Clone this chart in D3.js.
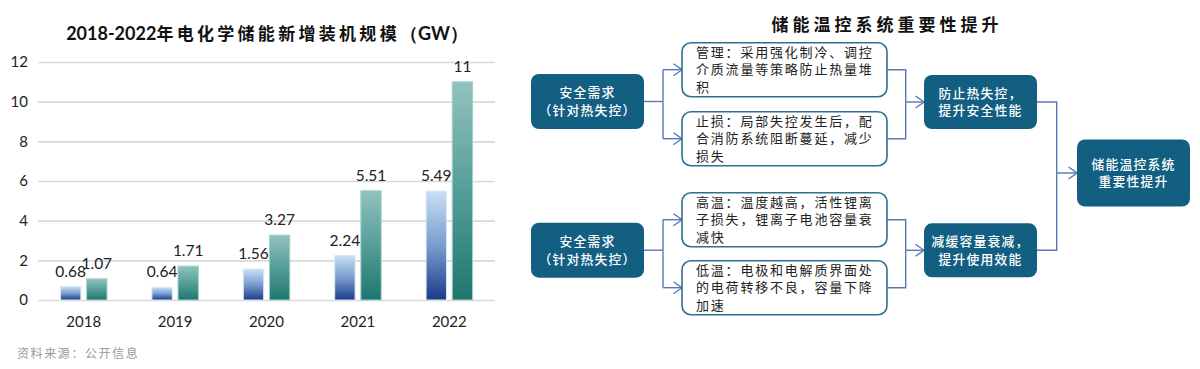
<!DOCTYPE html>
<html><head><meta charset="utf-8">
<script src="https://cdn.jsdelivr.net/npm/d3@7"></script>
<style>body{margin:0;background:#fff} svg{display:block}</style>
</head><body>
<svg id="c" width="1200" height="369"></svg>
<script>
const years = ["2018","2019","2020","2021","2022"];
const seriesA = [0.68,0.64,1.56,2.24,5.49];
const seriesB = [1.07,1.71,3.27,5.51,11];
const yTicks = [0,2,4,6,8,10,12];
const chartTitleNum = "2018-2022";
const chartTitleCjk = "年电化学储能新增装机规模";
const chartTitleUnit = "（GW）";
const sourceNote = "资料来源：公开信息";
const diagramTitle = "储能温控系统重要性提升";
const needLines = ["安全需求","（针对热失控）"];
const detailTexts = [
  ["管理：采用强化制冷、调控","介质流量等策略防止热量堆","积"],
  ["止损：局部失控发生后，配","合消防系统阻断蔓延，减少","损失"],
  ["高温：温度越高，活性锂离","子损失，锂离子电池容量衰","减快"],
  ["低温：电极和电解质界面处","的电荷转移不良，容量下降","加速"]
];
const goalTexts = [["防止热失控，","提升安全性能"],["减缓容量衰减，","提升使用效能"]];
const finalText = ["储能温控系统","重要性提升"];

const svg = d3.select("#c");
const defs = svg.append("defs");
function grad(id, stops){
  const g = defs.append("linearGradient").attr("id",id).attr("x1",0).attr("y1",0).attr("x2",0).attr("y2",1);
  stops.forEach(s=>g.append("stop").attr("offset",s[0]).attr("stop-color",s[1]));
}
grad("gBlue",[[0,"#c8e0f5"],[0.5,"#7a9ccf"],[1,"#1b3b8a"]]);
grad("gTeal",[[0,"#92c2be"],[0.5,"#559e98"],[1,"#1e766e"]]);

// ---------- Left bar chart ----------
const latin = "Lato, 'Open Sans', 'Noto Sans', sans-serif";
const cjk = "'Noto Sans CJK SC', sans-serif";
const x = d3.scaleBand().domain(years).range([38,495]).padding(0);
const y = d3.scaleLinear().domain([0,12]).range([300,62]);
const inner = d3.scaleBand().domain(["A","B"]).range([22.5,69]).paddingInner(0.22).paddingOuter(0);

const yAxis = svg.append("g").attr("transform","translate(38,0)")
  .call(d3.axisLeft(y).tickValues(yTicks).tickSize(-457).tickPadding(10).tickFormat(d3.format("d")));
yAxis.select(".domain").remove();
yAxis.selectAll(".tick line").attr("stroke","#d9d9d9").attr("stroke-width",1.6);
yAxis.selectAll(".tick text").attr("font-family",latin).attr("font-size",15).attr("fill","#222");

const xAxis = svg.append("g").attr("transform","translate(0,300)")
  .call(d3.axisBottom(x).tickSize(0).tickPadding(16));
xAxis.select(".domain").remove();
xAxis.selectAll(".tick text").attr("font-family",latin).attr("font-size",15).attr("fill","#222");

const rows = years.map((yr,i)=>({yr, vals:[{k:"A",v:seriesA[i]},{k:"B",v:seriesB[i]}]}));
const grp = svg.append("g").selectAll("g").data(rows).join("g")
  .attr("transform",d=>`translate(${x(d.yr)},0)`);
grp.selectAll("rect").data(d=>d.vals).join("rect")
  .attr("x",d=>inner(d.k)).attr("width",inner.bandwidth())
  .attr("y",d=>y(d.v)).attr("height",d=>y(0)-y(d.v))
  .attr("fill",d=>d.k==="A"?"url(#gBlue)":"url(#gTeal)")
  .attr("stroke",d=>d.k==="A"?"#d6e8f7":"#a6d2cd").attr("stroke-width",1);
grp.selectAll("text").data(d=>d.vals).join("text")
  .attr("x",d=>inner(d.k)+inner.bandwidth()/2).attr("y",d=>y(d.v)-10)
  .attr("text-anchor","middle").attr("font-family",latin).attr("font-size",15.5).attr("fill","#222")
  .text(d=>d.v);

const t1 = svg.append("text").attr("x",267).attr("y",40).attr("text-anchor","middle")
  .attr("font-weight","bold").attr("font-size",17).attr("fill","#111");
t1.append("tspan").attr("font-family",latin).attr("font-size",18).text(chartTitleNum);
t1.append("tspan").attr("font-family",cjk).attr("letter-spacing",3.3).text(chartTitleCjk);
t1.append("tspan").attr("font-family",latin).attr("font-size",18).text(chartTitleUnit);

svg.append("text").attr("x",17).attr("y",358).attr("font-family",cjk).attr("font-size",12)
  .attr("letter-spacing",1.6).attr("fill","#9a9a9a").text(sourceNote);

// ---------- Right diagram ----------
svg.append("text").attr("x",887).attr("y",31).attr("text-anchor","middle")
  .attr("font-family",cjk).attr("font-weight","bold").attr("font-size",17).attr("letter-spacing",4)
  .attr("fill","#111").text(diagramTitle);

const lineCol = "#5a78b8";
defs.append("marker").attr("id","arr").attr("viewBox","0 0 10 14").attr("refX",9.5).attr("refY",7)
  .attr("markerWidth",10).attr("markerHeight",14).attr("markerUnits","userSpaceOnUse").attr("orient","auto")
  .append("path").attr("d","M1,1 L9.5,7 L1,13").attr("fill","none").attr("stroke",lineCol).attr("stroke-width",1.4);

const darkFill = "#135f82";
const needBoxes = [{x:531,y:74,w:113,h:55,lines:needLines},{x:531,y:222.7,w:113,h:55,lines:needLines}];
const detailBoxes = [
  {x:682,y:42.7,w:205,h:54,lines:detailTexts[0]},
  {x:682,y:111.7,w:205,h:54,lines:detailTexts[1]},
  {x:682,y:192.7,w:205,h:54,lines:detailTexts[2]},
  {x:682,y:260.7,w:205,h:54,lines:detailTexts[3]}
];
const goalBoxes = [{x:924,y:75,w:113,h:54,lines:goalTexts[0]},{x:924,y:223.3,w:113,h:54,lines:goalTexts[1]}];
const finalBox = {x:1077,y:139.5,w:113,h:67,lines:finalText};

const links = svg.append("g").attr("fill","none").attr("stroke",lineCol).attr("stroke-width",1.4);
function cy(b){return b.y+b.h/2;}
function fork(src, a, b, xm){
  links.append("path").attr("d",`M${src.x+src.w},${cy(src)}H${xm}`);
  links.append("path").attr("d",`M${xm},${cy(a)}V${cy(b)}`);
  links.append("path").attr("d",`M${xm},${cy(a)}H${a.x}`).attr("marker-end","url(#arr)");
  links.append("path").attr("d",`M${xm},${cy(b)}H${b.x}`).attr("marker-end","url(#arr)");
}
function merge(a, b, dst, xm){
  links.append("path").attr("d",`M${a.x+a.w},${cy(a)}H${xm}V${cy(b)}H${b.x+b.w}`);
  links.append("path").attr("d",`M${xm},${cy(dst)}H${dst.x}`).attr("marker-end","url(#arr)");
}
fork(needBoxes[0], detailBoxes[0], detailBoxes[1], 663);
fork(needBoxes[1], detailBoxes[2], detailBoxes[3], 663);
merge(detailBoxes[0], detailBoxes[1], goalBoxes[0], 905.7);
merge(detailBoxes[2], detailBoxes[3], goalBoxes[1], 905.7);
merge(goalBoxes[0], goalBoxes[1], finalBox, 1056.7);

function darkBox(b, pitch, size){
  svg.append("rect").attr("x",b.x).attr("y",b.y).attr("width",b.w).attr("height",b.h)
    .attr("rx",8).attr("fill",darkFill);
  const n = b.lines.length;
  b.lines.forEach((l,i)=>{
    svg.append("text").attr("x",b.x+b.w/2).attr("y",cy(b)+(i-(n-1)/2)*pitch+size*0.36)
      .attr("text-anchor","middle").attr("font-family",cjk).attr("font-weight",500)
      .attr("font-size",size).attr("letter-spacing",1.2).attr("fill","#fff").text(l);
  });
}
needBoxes.forEach(b=>darkBox(b,17.6,12.8));
goalBoxes.forEach(b=>darkBox(b,17.6,12.8));
darkBox(finalBox,17.6,12.8);

detailBoxes.forEach(b=>{
  svg.append("rect").attr("x",b.x).attr("y",b.y).attr("width",b.w).attr("height",b.h)
    .attr("rx",9).attr("fill","#fff").attr("stroke","#2e7090").attr("stroke-width",1.6);
  b.lines.forEach((l,i)=>{
    svg.append("text").attr("x",b.x+14).attr("y",b.y+14+i*17.5)
      .attr("font-family",cjk).attr("font-size",13).attr("letter-spacing",1.8).attr("fill","#222").text(l);
  });
});
</script>
</body></html>
